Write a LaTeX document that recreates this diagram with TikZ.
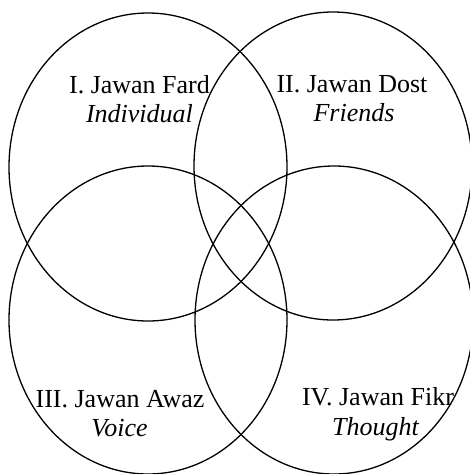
\documentclass[tikz,border=0pt]{standalone}
\usepackage{fontspec}
\setmainfont{Liberation Serif}
\usetikzlibrary{shapes.geometric}
\begin{document}
\begin{tikzpicture}[x=1pt,y=-1pt,
  ring/.style={draw=black, line width=1.3pt, ellipse, inner sep=0pt,
    minimum width=278pt, minimum height=308pt},
  head/.style={anchor=base, inner sep=0pt, font=\fontsize{26}{30}\selectfont},
  sub/.style={anchor=base, inner sep=0pt, font=\fontsize{26}{30}\selectfont\itshape}]
\useasboundingbox (0,0) rectangle (470,474);
\node[ring] (c1) at (148,167) {};
\node[ring] (c2) at (333,166) {};
\node[ring] (c3) at (148,320) {};
\node[ring] (c4) at (334,320) {};
\node[head] (t1) at (139.5,93) {I. Jawan Fard};
\node[sub]  (s1) at (139.5,122) {Individual};
\node[head] (t2) at (352,92) {II. Jawan Dost};
\node[sub]  (s2) at (354,121) {Friends};
\node[head] (t3) at (120,407) {III. Jawan Awaz};
\node[sub]  (s3) at (119.5,436) {Voice};
\node[head] (t4) at (378,405) {IV. Jawan Fikr};
\node[sub]  (s4) at (375.5,435) {Thought};
\end{tikzpicture}
\end{document}
